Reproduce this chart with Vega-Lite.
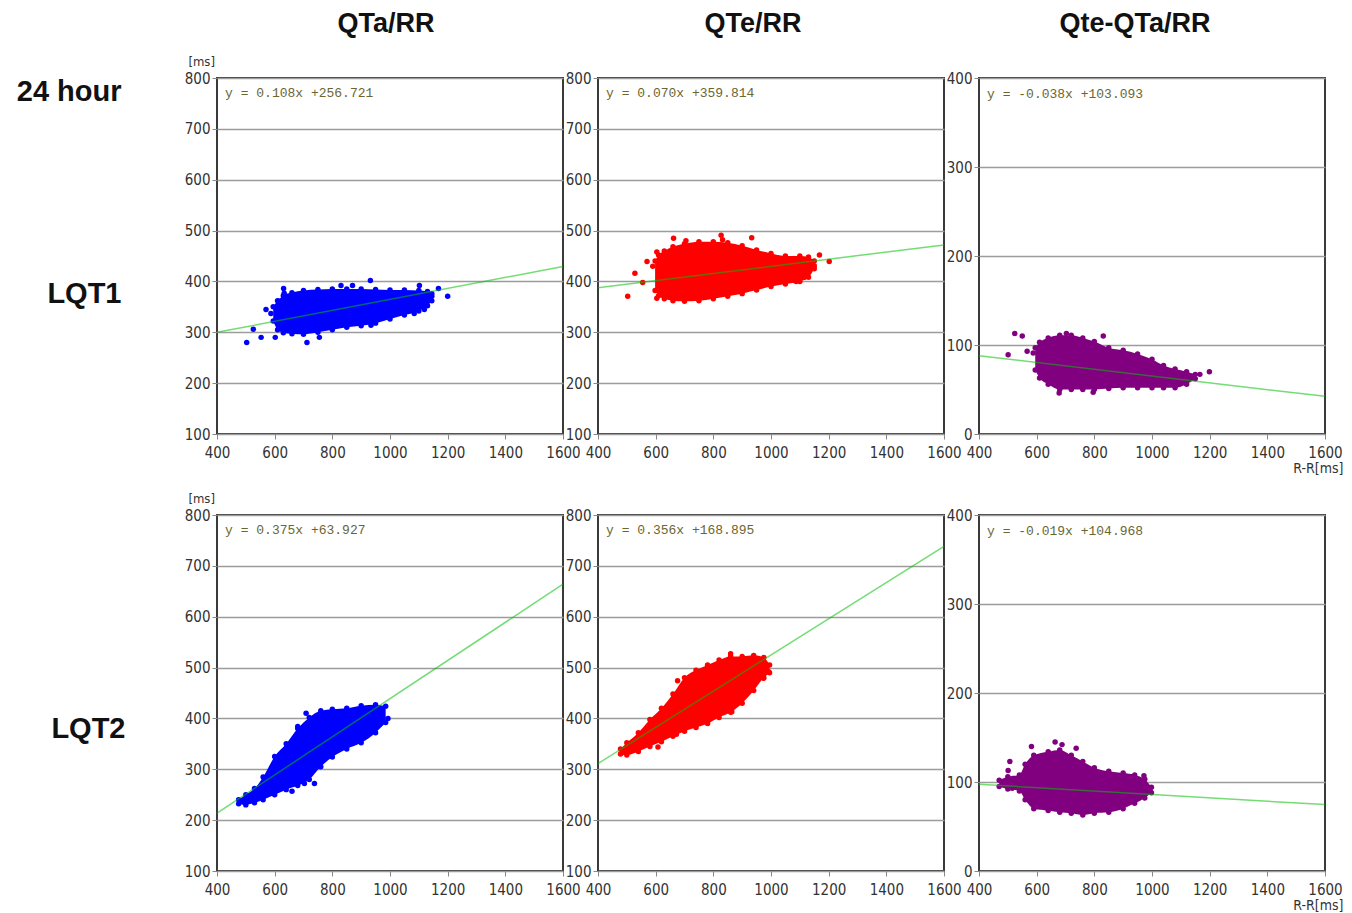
{
  "$schema": "https://vega.github.io/schema/vega-lite/v6.json",
  "padding": {"left": 15, "top": 9, "right": 8, "bottom": 2},
  "background": "white",
  "columns": 3,
  "spacing": {"row": 81, "column": 35},
  "bounds": "flush",
  "config": {
    "view": {"stroke": "#3a3a3a", "strokeWidth": 2},
    "axis": {"labelFont": "Liberation Sans Narrow, DejaVu Sans Condensed, sans-serif", "labelFontSize": 15, "labelColor": "#333333", "labelOverlap": false, "labelFlush": false, "format": "d", "tickColor": "#888888", "tickSize": 5, "domain": false, "titleFont": "Liberation Sans Narrow, DejaVu Sans Condensed, sans-serif", "titleFontWeight": "normal", "titleColor": "#333333"},
    "axisX": {"grid": false, "labelPadding": 6},
    "axisY": {"grid": true, "gridColor": "#9c9c9c", "gridWidth": 1.6, "labelPadding": 2},
    "title": {"font": "Liberation Sans, Arial, sans-serif", "fontWeight": "bold", "fontSize": 27, "color": "#111111", "frame": "group", "baseline": "alphabetic", "offset": 33},
    "area": {"interpolate": "monotone"},
    "circle": {"size": 30, "opacity": 1}
  },
  "datasets": {
    "env": [
      {"p":1,"x":595,"lo":322,"hi":350},{"p":1,"x":610,"lo":305,"hi":362},{"p":1,"x":630,"lo":299,"hi":372},{"p":1,"x":660,"lo":297,"hi":378},{"p":1,"x":700,"lo":296,"hi":382},{"p":1,"x":750,"lo":300,"hi":384},{"p":1,"x":800,"lo":305,"hi":385},{"p":1,"x":850,"lo":310,"hi":385},{"p":1,"x":900,"lo":313,"hi":385},{"p":1,"x":950,"lo":318,"hi":384},{"p":1,"x":1000,"lo":326,"hi":383},{"p":1,"x":1050,"lo":334,"hi":383},{"p":1,"x":1100,"lo":342,"hi":382},{"p":1,"x":1130,"lo":352,"hi":380},{"p":1,"x":1145,"lo":362,"hi":376},
      {"p":2,"x":598,"lo":382,"hi":440},{"p":2,"x":610,"lo":372,"hi":452},{"p":2,"x":630,"lo":366,"hi":460},{"p":2,"x":660,"lo":362,"hi":468},{"p":2,"x":700,"lo":361,"hi":474},{"p":2,"x":750,"lo":362,"hi":478},{"p":2,"x":800,"lo":366,"hi":478},{"p":2,"x":850,"lo":371,"hi":476},{"p":2,"x":900,"lo":376,"hi":470},{"p":2,"x":950,"lo":383,"hi":462},{"p":2,"x":1000,"lo":390,"hi":455},{"p":2,"x":1050,"lo":395,"hi":450},{"p":2,"x":1100,"lo":400,"hi":450},{"p":2,"x":1130,"lo":408,"hi":448},{"p":2,"x":1150,"lo":425,"hi":440},
      {"p":3,"x":595,"lo":72,"hi":97},{"p":3,"x":610,"lo":63,"hi":103},{"p":3,"x":640,"lo":56,"hi":108},{"p":3,"x":680,"lo":50,"hi":111},{"p":3,"x":720,"lo":50,"hi":111},{"p":3,"x":760,"lo":50,"hi":108},{"p":3,"x":800,"lo":50,"hi":104},{"p":3,"x":850,"lo":51,"hi":97},{"p":3,"x":900,"lo":52,"hi":94},{"p":3,"x":950,"lo":52,"hi":90},{"p":3,"x":1000,"lo":52,"hi":84},{"p":3,"x":1040,"lo":52,"hi":77},{"p":3,"x":1080,"lo":52,"hi":73},{"p":3,"x":1120,"lo":56,"hi":70},{"p":3,"x":1150,"lo":62,"hi":67},
      {"p":4,"x":475,"lo":232,"hi":240},{"p":4,"x":500,"lo":230,"hi":250},{"p":4,"x":530,"lo":234,"hi":262},{"p":4,"x":560,"lo":240,"hi":285},{"p":4,"x":600,"lo":250,"hi":325},{"p":4,"x":640,"lo":260,"hi":350},{"p":4,"x":680,"lo":268,"hi":380},{"p":4,"x":720,"lo":280,"hi":402},{"p":4,"x":760,"lo":305,"hi":415},{"p":4,"x":800,"lo":324,"hi":418},{"p":4,"x":850,"lo":340,"hi":420},{"p":4,"x":900,"lo":352,"hi":425},{"p":4,"x":950,"lo":372,"hi":427},{"p":4,"x":985,"lo":392,"hi":424},
      {"p":5,"x":478,"lo":330,"hi":340},{"p":5,"x":500,"lo":328,"hi":352},{"p":5,"x":540,"lo":335,"hi":372},{"p":5,"x":580,"lo":345,"hi":398},{"p":5,"x":620,"lo":354,"hi":420},{"p":5,"x":660,"lo":365,"hi":448},{"p":5,"x":700,"lo":375,"hi":480},{"p":5,"x":740,"lo":382,"hi":495},{"p":5,"x":780,"lo":390,"hi":505},{"p":5,"x":820,"lo":402,"hi":515},{"p":5,"x":860,"lo":412,"hi":522},{"p":5,"x":900,"lo":430,"hi":522},{"p":5,"x":940,"lo":455,"hi":524},{"p":5,"x":975,"lo":480,"hi":520},{"p":5,"x":995,"lo":490,"hi":505},
      {"p":6,"x":470,"lo":95,"hi":102},{"p":6,"x":500,"lo":92,"hi":106},{"p":6,"x":540,"lo":90,"hi":108},{"p":6,"x":560,"lo":80,"hi":120},{"p":6,"x":590,"lo":70,"hi":130},{"p":6,"x":640,"lo":68,"hi":134},{"p":6,"x":680,"lo":66,"hi":136},{"p":6,"x":720,"lo":65,"hi":130},{"p":6,"x":760,"lo":63,"hi":123},{"p":6,"x":800,"lo":65,"hi":116},{"p":6,"x":850,"lo":66,"hi":112},{"p":6,"x":900,"lo":70,"hi":110},{"p":6,"x":940,"lo":76,"hi":108},{"p":6,"x":975,"lo":82,"hi":103},{"p":6,"x":998,"lo":88,"hi":94}
    ],
    "out": [
      {"p":1,"x":503,"y":280},{"p":1,"x":526,"y":306},{"p":1,"x":553,"y":290},{"p":1,"x":570,"y":345},{"p":1,"x":587,"y":337},{"p":1,"x":602,"y":290},{"p":1,"x":712,"y":280},{"p":1,"x":755,"y":290},{"p":1,"x":934,"y":314},{"p":1,"x":932,"y":402},{"p":1,"x":1168,"y":386},{"p":1,"x":1200,"y":371},{"p":1,"x":1145,"y":371},{"p":1,"x":1084,"y":337},{"p":1,"x":1119,"y":345},{"p":1,"x":870,"y":392},{"p":1,"x":830,"y":392},{"p":1,"x":631,"y":386},{"p":1,"x":1102,"y":392},{"p":1,"x":616,"y":361},{"p":1,"x":633,"y":377},
      {"p":2,"x":503,"y":371},{"p":2,"x":528,"y":416},{"p":2,"x":555,"y":398},{"p":2,"x":570,"y":439},{"p":2,"x":590,"y":430},{"p":2,"x":604,"y":367},{"p":2,"x":604,"y":458},{"p":2,"x":662,"y":485},{"p":2,"x":705,"y":480},{"p":2,"x":827,"y":491},{"p":2,"x":832,"y":482},{"p":2,"x":933,"y":486},{"p":2,"x":1168,"y":452},{"p":2,"x":1202,"y":439},{"p":2,"x":1150,"y":431},{"p":2,"x":1087,"y":400},{"p":2,"x":1116,"y":408},
      {"p":3,"x":501,"y":89},{"p":3,"x":524,"y":113},{"p":3,"x":550,"y":110},{"p":3,"x":567,"y":93},{"p":3,"x":588,"y":91},{"p":3,"x":678,"y":46},{"p":3,"x":796,"y":47},{"p":3,"x":831,"y":110},{"p":3,"x":703,"y":113},{"p":3,"x":1199,"y":70},{"p":3,"x":1166,"y":67},{"p":3,"x":1143,"y":63},
      {"p":4,"x":680,"y":384},{"p":4,"x":709,"y":410},{"p":4,"x":703,"y":272},{"p":4,"x":738,"y":272},{"p":4,"x":660,"y":257},{"p":4,"x":993,"y":400},{"p":4,"x":976,"y":394},{"p":4,"x":490,"y":236},{"p":4,"x":520,"y":250},
      {"p":5,"x":676,"y":474},{"p":5,"x":608,"y":344},{"p":5,"x":672,"y":369},{"p":5,"x":860,"y":527},{"p":5,"x":992,"y":492},{"p":5,"x":974,"y":479},{"p":5,"x":864,"y":413},{"p":5,"x":701,"y":464},{"p":5,"x":485,"y":333},
      {"p":6,"x":481,"y":100},{"p":6,"x":507,"y":123},{"p":6,"x":501,"y":113},{"p":6,"x":515,"y":93},{"p":6,"x":582,"y":140},{"p":6,"x":664,"y":145},{"p":6,"x":688,"y":142},{"p":6,"x":737,"y":138},{"p":6,"x":972,"y":107},{"p":6,"x":993,"y":91}
    ],
    "fit": [
      {"p":1,"x":400,"y":299.9},{"p":1,"x":1600,"y":429.5},
      {"p":2,"x":400,"y":387.8},{"p":2,"x":1600,"y":471.8},
      {"p":3,"x":400,"y":87.9},{"p":3,"x":1600,"y":42.3},
      {"p":4,"x":400,"y":213.9},{"p":4,"x":1600,"y":663.9},
      {"p":5,"x":400,"y":311.3},{"p":5,"x":1600,"y":738.5},
      {"p":6,"x":400,"y":97.4},{"p":6,"x":1600,"y":74.6}
    ],
    "eq": [
      {"p":1,"t":"y = 0.108x +256.721"},
      {"p":2,"t":"y = 0.070x +359.814"},
      {"p":3,"t":"y = -0.038x +103.093"},
      {"p":4,"t":"y = 0.375x +63.927"},
      {"p":5,"t":"y = 0.356x +168.895"},
      {"p":6,"t":"y = -0.019x +104.968"}
    ]
  },
  "concat": [
    {
      "width": 346, "height": 356,
      "title": {"text": "QTa/RR", "dx": -4, "offset": 18},
      "layer": [
        {"data": {"name": "env"}, "transform": [{"filter": "datum.p == 1"}], "mark": {"type": "area", "color": "#0000ff"},
         "encoding": {"x": {"field": "x", "type": "quantitative", "scale": {"domain": [400, 1600], "nice": false, "zero": false}, "axis": {"values": [400,600,800,1000,1200,1400,1600], "title": null}},
                      "y": {"field": "lo", "type": "quantitative", "scale": {"domain": [100, 800], "nice": false, "zero": false}, "axis": {"values": [100,200,300,400,500,600,700,800], "title": ["24 hour", "LQT1"], "titleAngle": 0, "titleAlign": "right", "titleBaseline": "alphabetic", "titleX": -96, "titleY": 22, "titleLineHeight": 202, "titleFont": "Liberation Sans, Arial, sans-serif", "titleFontWeight": "bold", "titleFontSize": 29, "titleColor": "#111111"}},
                      "y2": {"field": "hi"}}},
        {"data": {"name": "env"}, "transform": [{"filter": "datum.p == 1"}], "mark": {"type": "circle", "color": "#0000ff"},
         "encoding": {"x": {"field": "x", "type": "quantitative"}, "y": {"field": "lo", "type": "quantitative"}}},
        {"data": {"name": "env"}, "transform": [{"filter": "datum.p == 1"}], "mark": {"type": "circle", "color": "#0000ff"},
         "encoding": {"x": {"field": "x", "type": "quantitative"}, "y": {"field": "hi", "type": "quantitative"}}},
        {"data": {"name": "out"}, "transform": [{"filter": "datum.p == 1"}], "mark": {"type": "circle", "color": "#0000ff"},
         "encoding": {"x": {"field": "x", "type": "quantitative"}, "y": {"field": "y", "type": "quantitative"}}},
        {"data": {"name": "fit"}, "transform": [{"filter": "datum.p == 1"}], "mark": {"type": "line", "color": "#00c000", "strokeWidth": 1.5, "opacity": 0.55},
         "encoding": {"x": {"field": "x", "type": "quantitative"}, "y": {"field": "y", "type": "quantitative"}}},
        {"data": {"name": "eq"}, "transform": [{"filter": "datum.p == 1"}], "mark": {"type": "text", "align": "left", "baseline": "middle", "font": "Liberation Mono, DejaVu Sans Mono, monospace", "fontSize": 13, "color": "#6b6630"},
         "encoding": {"x": {"datum": 428, "type": "quantitative"}, "y": {"datum": 770, "type": "quantitative"}, "text": {"field": "t"}}},
        {"data": {"values": [{"t": "[ms]"}]}, "mark": {"type": "text", "align": "right", "baseline": "middle", "dx": -2, "dy": -16, "font": "Liberation Sans Narrow, DejaVu Sans Condensed, sans-serif", "fontSize": 13, "color": "#333333"},
         "encoding": {"x": {"datum": 400, "type": "quantitative"}, "y": {"datum": 800, "type": "quantitative"}, "text": {"field": "t"}}}
      ]
    },
    {
      "width": 346, "height": 356,
      "title": {"text": "QTe/RR", "dx": -18},
      "layer": [
        {"data": {"name": "env"}, "transform": [{"filter": "datum.p == 2"}], "mark": {"type": "area", "color": "#ff0000"},
         "encoding": {"x": {"field": "x", "type": "quantitative", "scale": {"domain": [400, 1600], "nice": false, "zero": false}, "axis": {"values": [400,600,800,1000,1200,1400,1600], "title": null}},
                      "y": {"field": "lo", "type": "quantitative", "scale": {"domain": [100, 800], "nice": false, "zero": false}, "axis": {"values": [100,200,300,400,500,600,700,800], "title": null}},
                      "y2": {"field": "hi"}}},
        {"data": {"name": "env"}, "transform": [{"filter": "datum.p == 2"}], "mark": {"type": "circle", "color": "#ff0000"},
         "encoding": {"x": {"field": "x", "type": "quantitative"}, "y": {"field": "lo", "type": "quantitative"}}},
        {"data": {"name": "env"}, "transform": [{"filter": "datum.p == 2"}], "mark": {"type": "circle", "color": "#ff0000"},
         "encoding": {"x": {"field": "x", "type": "quantitative"}, "y": {"field": "hi", "type": "quantitative"}}},
        {"data": {"name": "out"}, "transform": [{"filter": "datum.p == 2"}], "mark": {"type": "circle", "color": "#ff0000"},
         "encoding": {"x": {"field": "x", "type": "quantitative"}, "y": {"field": "y", "type": "quantitative"}}},
        {"data": {"name": "fit"}, "transform": [{"filter": "datum.p == 2"}], "mark": {"type": "line", "color": "#00c000", "strokeWidth": 1.5, "opacity": 0.55},
         "encoding": {"x": {"field": "x", "type": "quantitative"}, "y": {"field": "y", "type": "quantitative"}}},
        {"data": {"name": "eq"}, "transform": [{"filter": "datum.p == 2"}], "mark": {"type": "text", "align": "left", "baseline": "middle", "font": "Liberation Mono, DejaVu Sans Mono, monospace", "fontSize": 13, "color": "#6b6630"},
         "encoding": {"x": {"datum": 428, "type": "quantitative"}, "y": {"datum": 770, "type": "quantitative"}, "text": {"field": "t"}}}
      ]
    },
    {
      "width": 346, "height": 356,
      "title": {"text": "Qte-QTa/RR", "dx": -17},
      "layer": [
        {"data": {"name": "env"}, "transform": [{"filter": "datum.p == 3"}], "mark": {"type": "area", "color": "#800080"},
         "encoding": {"x": {"field": "x", "type": "quantitative", "scale": {"domain": [400, 1600], "nice": false, "zero": false}, "axis": {"values": [400,600,800,1000,1200,1400,1600], "title": "R-R[ms]", "titleAlign": "right", "titleAnchor": null, "titleBaseline": "alphabetic", "titleX": 364, "titleY": 38, "titleFontSize": 14}},
                      "y": {"field": "lo", "type": "quantitative", "scale": {"domain": [0, 400], "nice": false, "zero": false}, "axis": {"values": [0,100,200,300,400], "title": null}},
                      "y2": {"field": "hi"}}},
        {"data": {"name": "env"}, "transform": [{"filter": "datum.p == 3"}], "mark": {"type": "circle", "color": "#800080"},
         "encoding": {"x": {"field": "x", "type": "quantitative"}, "y": {"field": "lo", "type": "quantitative"}}},
        {"data": {"name": "env"}, "transform": [{"filter": "datum.p == 3"}], "mark": {"type": "circle", "color": "#800080"},
         "encoding": {"x": {"field": "x", "type": "quantitative"}, "y": {"field": "hi", "type": "quantitative"}}},
        {"data": {"name": "out"}, "transform": [{"filter": "datum.p == 3"}], "mark": {"type": "circle", "color": "#800080"},
         "encoding": {"x": {"field": "x", "type": "quantitative"}, "y": {"field": "y", "type": "quantitative"}}},
        {"data": {"name": "fit"}, "transform": [{"filter": "datum.p == 3"}], "mark": {"type": "line", "color": "#00c000", "strokeWidth": 1.5, "opacity": 0.55},
         "encoding": {"x": {"field": "x", "type": "quantitative"}, "y": {"field": "y", "type": "quantitative"}}},
        {"data": {"name": "eq"}, "transform": [{"filter": "datum.p == 3"}], "mark": {"type": "text", "align": "left", "baseline": "middle", "font": "Liberation Mono, DejaVu Sans Mono, monospace", "fontSize": 13, "color": "#6b6630"},
         "encoding": {"x": {"datum": 428, "type": "quantitative"}, "y": {"datum": 382, "type": "quantitative"}, "text": {"field": "t"}}}
      ]
    },
    {
      "width": 346, "height": 356,
      "layer": [
        {"data": {"name": "env"}, "transform": [{"filter": "datum.p == 4"}], "mark": {"type": "area", "color": "#0000ff"},
         "encoding": {"x": {"field": "x", "type": "quantitative", "scale": {"domain": [400, 1600], "nice": false, "zero": false}, "axis": {"values": [400,600,800,1000,1200,1400,1600], "title": null}},
                      "y": {"field": "lo", "type": "quantitative", "scale": {"domain": [100, 800], "nice": false, "zero": false}, "axis": {"values": [100,200,300,400,500,600,700,800], "title": "LQT2", "titleAngle": 0, "titleAlign": "right", "titleBaseline": "alphabetic", "titleX": -92, "titleY": 222, "titleFont": "Liberation Sans, Arial, sans-serif", "titleFontWeight": "bold", "titleFontSize": 29, "titleColor": "#111111"}},
                      "y2": {"field": "hi"}}},
        {"data": {"name": "env"}, "transform": [{"filter": "datum.p == 4"}], "mark": {"type": "circle", "color": "#0000ff"},
         "encoding": {"x": {"field": "x", "type": "quantitative"}, "y": {"field": "lo", "type": "quantitative"}}},
        {"data": {"name": "env"}, "transform": [{"filter": "datum.p == 4"}], "mark": {"type": "circle", "color": "#0000ff"},
         "encoding": {"x": {"field": "x", "type": "quantitative"}, "y": {"field": "hi", "type": "quantitative"}}},
        {"data": {"name": "out"}, "transform": [{"filter": "datum.p == 4"}], "mark": {"type": "circle", "color": "#0000ff"},
         "encoding": {"x": {"field": "x", "type": "quantitative"}, "y": {"field": "y", "type": "quantitative"}}},
        {"data": {"name": "fit"}, "transform": [{"filter": "datum.p == 4"}], "mark": {"type": "line", "color": "#00c000", "strokeWidth": 1.5, "opacity": 0.55},
         "encoding": {"x": {"field": "x", "type": "quantitative"}, "y": {"field": "y", "type": "quantitative"}}},
        {"data": {"name": "eq"}, "transform": [{"filter": "datum.p == 4"}], "mark": {"type": "text", "align": "left", "baseline": "middle", "font": "Liberation Mono, DejaVu Sans Mono, monospace", "fontSize": 13, "color": "#6b6630"},
         "encoding": {"x": {"datum": 428, "type": "quantitative"}, "y": {"datum": 770, "type": "quantitative"}, "text": {"field": "t"}}},
        {"data": {"values": [{"t": "[ms]"}]}, "mark": {"type": "text", "align": "right", "baseline": "middle", "dx": -2, "dy": -16, "font": "Liberation Sans Narrow, DejaVu Sans Condensed, sans-serif", "fontSize": 13, "color": "#333333"},
         "encoding": {"x": {"datum": 400, "type": "quantitative"}, "y": {"datum": 800, "type": "quantitative"}, "text": {"field": "t"}}}
      ]
    },
    {
      "width": 346, "height": 356,
      "layer": [
        {"data": {"name": "env"}, "transform": [{"filter": "datum.p == 5"}], "mark": {"type": "area", "color": "#ff0000"},
         "encoding": {"x": {"field": "x", "type": "quantitative", "scale": {"domain": [400, 1600], "nice": false, "zero": false}, "axis": {"values": [400,600,800,1000,1200,1400,1600], "title": null}},
                      "y": {"field": "lo", "type": "quantitative", "scale": {"domain": [100, 800], "nice": false, "zero": false}, "axis": {"values": [100,200,300,400,500,600,700,800], "title": null}},
                      "y2": {"field": "hi"}}},
        {"data": {"name": "env"}, "transform": [{"filter": "datum.p == 5"}], "mark": {"type": "circle", "color": "#ff0000"},
         "encoding": {"x": {"field": "x", "type": "quantitative"}, "y": {"field": "lo", "type": "quantitative"}}},
        {"data": {"name": "env"}, "transform": [{"filter": "datum.p == 5"}], "mark": {"type": "circle", "color": "#ff0000"},
         "encoding": {"x": {"field": "x", "type": "quantitative"}, "y": {"field": "hi", "type": "quantitative"}}},
        {"data": {"name": "out"}, "transform": [{"filter": "datum.p == 5"}], "mark": {"type": "circle", "color": "#ff0000"},
         "encoding": {"x": {"field": "x", "type": "quantitative"}, "y": {"field": "y", "type": "quantitative"}}},
        {"data": {"name": "fit"}, "transform": [{"filter": "datum.p == 5"}], "mark": {"type": "line", "color": "#00c000", "strokeWidth": 1.5, "opacity": 0.55},
         "encoding": {"x": {"field": "x", "type": "quantitative"}, "y": {"field": "y", "type": "quantitative"}}},
        {"data": {"name": "eq"}, "transform": [{"filter": "datum.p == 5"}], "mark": {"type": "text", "align": "left", "baseline": "middle", "font": "Liberation Mono, DejaVu Sans Mono, monospace", "fontSize": 13, "color": "#6b6630"},
         "encoding": {"x": {"datum": 428, "type": "quantitative"}, "y": {"datum": 770, "type": "quantitative"}, "text": {"field": "t"}}}
      ]
    },
    {
      "width": 346, "height": 356,
      "layer": [
        {"data": {"name": "env"}, "transform": [{"filter": "datum.p == 6"}], "mark": {"type": "area", "color": "#800080"},
         "encoding": {"x": {"field": "x", "type": "quantitative", "scale": {"domain": [400, 1600], "nice": false, "zero": false}, "axis": {"values": [400,600,800,1000,1200,1400,1600], "title": "R-R[ms]", "titleAlign": "right", "titleAnchor": null, "titleBaseline": "alphabetic", "titleX": 364, "titleY": 38, "titleFontSize": 14}},
                      "y": {"field": "lo", "type": "quantitative", "scale": {"domain": [0, 400], "nice": false, "zero": false}, "axis": {"values": [0,100,200,300,400], "title": null}},
                      "y2": {"field": "hi"}}},
        {"data": {"name": "env"}, "transform": [{"filter": "datum.p == 6"}], "mark": {"type": "circle", "color": "#800080"},
         "encoding": {"x": {"field": "x", "type": "quantitative"}, "y": {"field": "lo", "type": "quantitative"}}},
        {"data": {"name": "env"}, "transform": [{"filter": "datum.p == 6"}], "mark": {"type": "circle", "color": "#800080"},
         "encoding": {"x": {"field": "x", "type": "quantitative"}, "y": {"field": "hi", "type": "quantitative"}}},
        {"data": {"name": "out"}, "transform": [{"filter": "datum.p == 6"}], "mark": {"type": "circle", "color": "#800080"},
         "encoding": {"x": {"field": "x", "type": "quantitative"}, "y": {"field": "y", "type": "quantitative"}}},
        {"data": {"name": "fit"}, "transform": [{"filter": "datum.p == 6"}], "mark": {"type": "line", "color": "#00c000", "strokeWidth": 1.5, "opacity": 0.55},
         "encoding": {"x": {"field": "x", "type": "quantitative"}, "y": {"field": "y", "type": "quantitative"}}},
        {"data": {"name": "eq"}, "transform": [{"filter": "datum.p == 6"}], "mark": {"type": "text", "align": "left", "baseline": "middle", "font": "Liberation Mono, DejaVu Sans Mono, monospace", "fontSize": 13, "color": "#6b6630"},
         "encoding": {"x": {"datum": 428, "type": "quantitative"}, "y": {"datum": 382, "type": "quantitative"}, "text": {"field": "t"}}}
      ]
    }
  ]
}
